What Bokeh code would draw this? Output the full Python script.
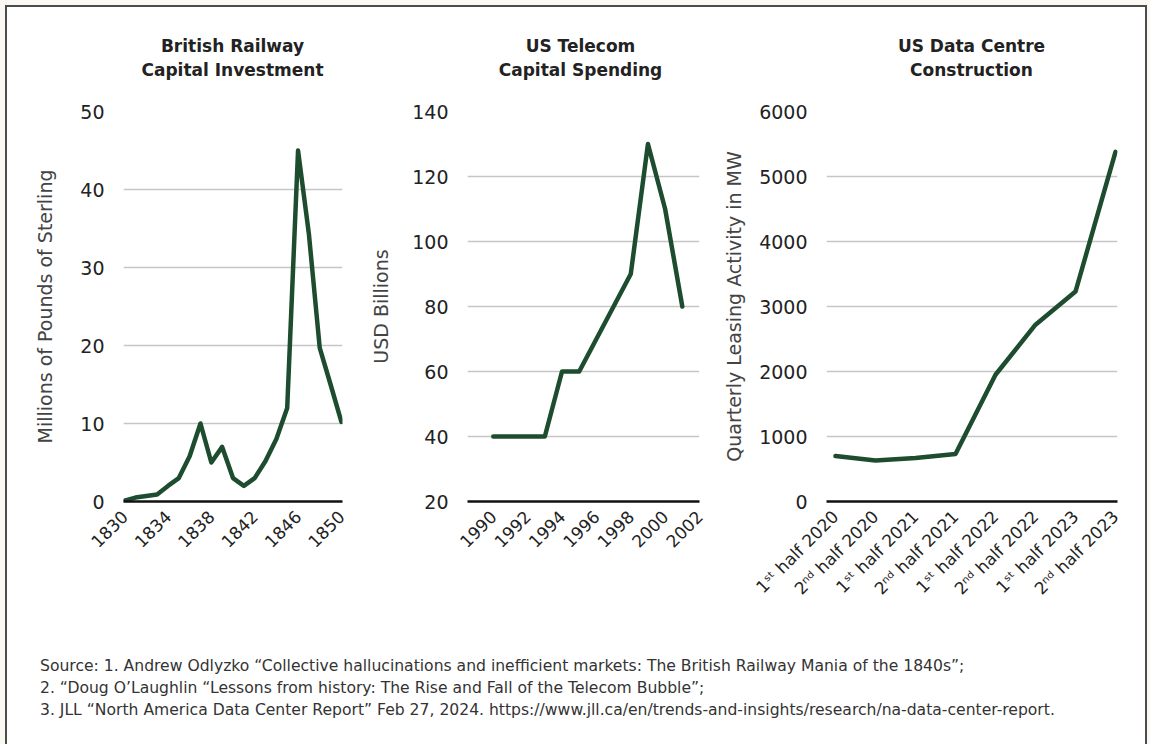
import math
from bokeh.plotting import figure
from bokeh.layouts import row, column
from bokeh.models import Range1d, FixedTicker, Div, GlobalInlineStyleSheet
from bokeh.embed import file_html
from bokeh.resources import INLINE

# ---------------- data ----------------
rail_years = list(range(1830, 1851))
rail_values = [0.1, 0.5, 0.7, 0.9, 2.0, 3.0, 5.8, 10.0, 5.0, 7.0, 3.0, 2.0, 3.0,
               5.2, 8.0, 12.0, 45.0, 34.3, 19.7, 15.0, 10.2]
rail_ticks = [1830, 1834, 1838, 1842, 1846, 1850]

tel_years = list(range(1990, 2002))
tel_values = [40, 40, 40, 40, 60, 60, 70, 80, 90, 130, 110, 80]
tel_ticks = [1990, 1992, 1994, 1996, 1998, 2000, 2002]

dc_labels = ["1\u02e2\u1d57 half 2020", "2\u207f\u1d48 half 2020",
             "1\u02e2\u1d57 half 2021", "2\u207f\u1d48 half 2021",
             "1\u02e2\u1d57 half 2022", "2\u207f\u1d48 half 2022",
             "1\u02e2\u1d57 half 2023", "2\u207f\u1d48 half 2023"]
dc_values = [700, 630, 670, 730, 1950, 2720, 3230, 5380]
dc_pos = list(range(len(dc_labels)))

titles = [("British Railway", "Capital Investment"),
          ("US Telecom", "Capital Spending"),
          ("US Data Centre", "Construction")]
y_labels = ["Millions of Pounds of Sterling", "USD Billions",
            "Quarterly Leasing Activity in MW"]
sources = [
    "Source: 1. Andrew Odlyzko \u201cCollective hallucinations and inefficient markets: The British Railway Mania of the 1840s\u201d;",
    "2. \u201cDoug O\u2019Laughlin \u201cLessons from history: The Rise and Fall of the Telecom Bubble\u201d;",
    "3. JLL \u201cNorth America Data Center Report\u201d Feb 27, 2024. https://www.jll.ca/en/trends-and-insights/research/na-data-center-report.",
]

# ---------------- style ----------------
FONT = "DejaVu Sans"
LINE_COLOR = "#1d4d2e"
GRID_COLOR = "#c6c6c6"
TITLE_H = 83          # title strip height (y 7 .. 90)
TOP = 21              # frame top at y = 111
FRAME_H = 390         # frame bottom at y = 501
FIG_H = 550           # figure bottom at y = 640


def make_fig(width, left, right, x_range, y_range, ylabel, ystep, label_standoff):
    p = figure(width=width, height=FIG_H, x_range=x_range, y_range=y_range,
               output_backend="svg", toolbar_location=None,
               min_border_left=left, min_border_right=right,
               min_border_top=TOP, min_border_bottom=FIG_H - TOP - FRAME_H)
    p.outline_line_color = None
    p.background_fill_color = "white"
    p.border_fill_color = "white"
    p.xgrid.grid_line_color = None
    p.ygrid.grid_line_color = GRID_COLOR
    p.ygrid.grid_line_width = 1.5
    p.yaxis.ticker = FixedTicker(ticks=[y_range.start + i * ystep for i in range(7)])
    p.yaxis.axis_line_color = None
    p.yaxis.major_tick_line_color = None
    p.yaxis.minor_tick_line_color = None
    p.yaxis.major_label_text_font = FONT
    p.yaxis.major_label_text_font_size = "19px"
    p.yaxis.major_label_text_color = "#222222"
    p.yaxis.major_label_standoff = 13
    p.yaxis.axis_label = ylabel
    p.yaxis.axis_label_text_font = FONT
    p.yaxis.axis_label_text_font_style = "normal"
    p.yaxis.axis_label_text_font_size = "19px"
    p.yaxis.axis_label_text_color = "#444444"
    p.yaxis.axis_label_standoff = label_standoff
    p.xaxis.axis_line_color = "#111111"
    p.xaxis.axis_line_width = 2.5
    p.xaxis.major_tick_line_color = None
    p.xaxis.minor_tick_line_color = None
    p.xaxis.major_label_orientation = math.pi / 4
    p.xaxis.major_label_text_font = FONT
    p.xaxis.major_label_text_font_size = "17px"
    p.xaxis.major_label_text_color = "#222222"
    p.xaxis.major_label_standoff = 6
    return p


def make_title(width, left, right, lines):
    frame_w = width - left - right
    html = ('<div style="box-sizing:content-box; margin:0; padding:27px 0 0 %dpx; '
            'width:%dpx; text-align:center; font-family:\'DejaVu Sans\'; '
            'font-weight:bold; font-size:17px; line-height:24px; color:#222222; '
            'white-space:nowrap;">' % (left, frame_w)) + "<br>".join(lines) + "</div>"
    return Div(text=html, width=width, height=TITLE_H, margin=0)


specs = [(360, 116, 25), (348, 95, 16), (430, 111, 28)]

# chart 1
p1 = make_fig(*specs[0], Range1d(1829.9, 1850.1), Range1d(0, 50),
              y_labels[0], 10, 21)
p1.xaxis.ticker = FixedTicker(ticks=rail_ticks)
p1.line(rail_years, rail_values, line_color=LINE_COLOR, line_width=4.5,
        line_join="round", line_cap="round")

# chart 2
p2 = make_fig(*specs[1], Range1d(1988.5, 2002.0), Range1d(20, 140),
              y_labels[1], 20, 17)
p2.xaxis.ticker = FixedTicker(ticks=tel_ticks)
p2.line(tel_years, tel_values, line_color=LINE_COLOR, line_width=4.5,
        line_join="round", line_cap="round")

# chart 3
p3 = make_fig(*specs[2], Range1d(-0.225, 7.05), Range1d(0, 6000),
              y_labels[2], 1000, 11)
p3.xaxis.ticker = FixedTicker(ticks=dc_pos)
p3.xaxis.major_label_overrides = {i: lab for i, lab in enumerate(dc_labels)}
p3.line(dc_pos, dc_values, line_color=LINE_COLOR, line_width=4.5,
        line_join="round", line_cap="round")

title_row = row(*[make_title(w, l, r, t) for (w, l, r), t in zip(specs, titles)])

footer = Div(
    text='<div style="box-sizing:content-box; margin:0; padding:15px 0 0 33px; '
         'font-family:\'DejaVu Sans\'; font-size:15.6px; line-height:22px; '
         'color:#333333; white-space:nowrap;">' + "<br>".join(sources) + "</div>",
    width=1138, height=105, margin=0)

root = column(title_row, row(p1, p2, p3), footer,
              styles={"margin-left": "5px", "margin-top": "5px",
                      "border-top": "2px solid #4b4b4b",
                      "border-left": "2px solid #4b4b4b",
                      "border-right": "2px solid #4b4b4b",
                      "border-bottom": "none",
                      "background-color": "#ffffff"},
              stylesheets=[GlobalInlineStyleSheet(css="body{margin:0;background:#fbf8f3;}")])

open("out.html", "w").write(file_html(root, INLINE))
